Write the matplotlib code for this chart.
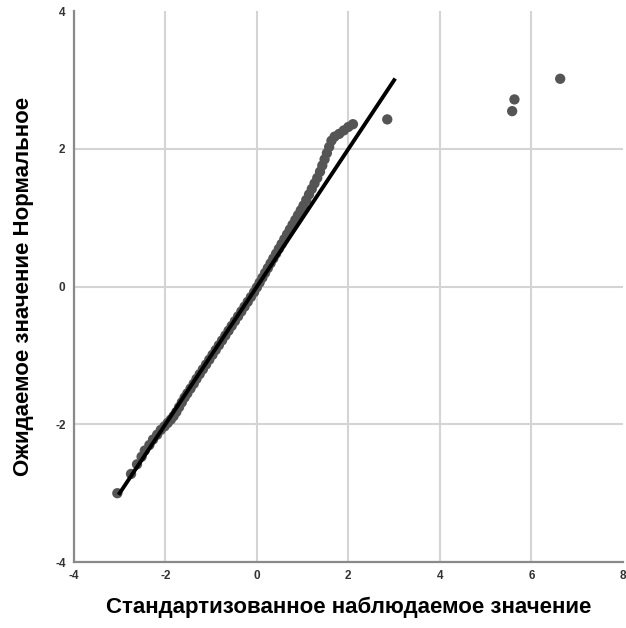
import matplotlib
matplotlib.use("Agg")
import matplotlib.pyplot as plt

observed = [
    -3.05, -2.75, -2.62, -2.52, -2.45, -2.35, -2.27, -2.18, -2.10, -2.02,
    -1.95, -1.88, -1.82, -1.76, -1.70, -1.64, -1.58, -1.52, -1.45, -1.38,
    -1.32, -1.25, -1.18, -1.11, -1.04, -0.97, -0.90, -0.83, -0.76, -0.69,
    -0.62, -0.55, -0.48, -0.41, -0.34, -0.27, -0.20, -0.13, -0.06, 0.00,
    0.06, 0.12, 0.18, 0.24, 0.30, 0.36, 0.42, 0.48, 0.54, 0.60,
    0.66, 0.72, 0.78, 0.84, 0.90, 0.96, 1.02, 1.08, 1.14, 1.20,
    1.26, 1.32, 1.38, 1.43, 1.48, 1.53, 1.58, 1.63, 1.70, 1.80,
    1.90, 2.00, 2.10,
    2.85, 5.58, 5.63, 6.63,
]
expected = [
    -3.00, -2.72, -2.58, -2.47, -2.38, -2.30, -2.22, -2.15, -2.08, -2.03,
    -1.98, -1.93, -1.88, -1.82, -1.75, -1.68, -1.61, -1.55, -1.48, -1.41,
    -1.34, -1.27, -1.20, -1.13, -1.06, -0.99, -0.92, -0.85, -0.78, -0.71,
    -0.64, -0.57, -0.50, -0.43, -0.36, -0.29, -0.22, -0.15, -0.08, -0.01,
    0.06, 0.13, 0.20, 0.27, 0.34, 0.41, 0.48, 0.55, 0.62, 0.69,
    0.76, 0.83, 0.90, 0.97, 1.04, 1.11, 1.18, 1.26, 1.34, 1.42,
    1.50, 1.58, 1.67, 1.76, 1.85, 1.94, 2.03, 2.12, 2.18, 2.22,
    2.27, 2.32, 2.36,
    2.43, 2.55, 2.72, 3.02,
]
ref_line = [-3, 3]

x_ticks = [-4, -2, 0, 2, 4, 6, 8]
y_ticks = [-4, -2, 0, 2, 4]

plt.rcParams['font.family'] = ['Liberation Sans', 'DejaVu Sans']
plt.rcParams['axes.unicode_minus'] = False

fig = plt.figure(figsize=(6.26, 6.28), dpi=100)
ax = fig.add_axes([0.118, 0.105, 0.877, 0.877])

ax.scatter(observed, expected, s=55, color='#555555', edgecolors='none', zorder=3)
ax.plot(ref_line, ref_line, color='#000000', lw=2.8, zorder=4)

ax.set_xlim(-4, 8)
ax.set_ylim(-4, 4)
ax.set_xticks(x_ticks)
ax.set_yticks(y_ticks)
ax.grid(True, color='#d4d4d4', lw=1.5, zorder=0)
ax.set_axisbelow(True)
# no gridline on the far edges
ax.xaxis.get_gridlines()[-1].set_visible(False)
ax.yaxis.get_gridlines()[-1].set_visible(False)

for s in ['top', 'right']:
    ax.spines[s].set_visible(False)
for s in ['left', 'bottom']:
    ax.spines[s].set_color('#8a8a8a')
    ax.spines[s].set_linewidth(1.6)

ax.tick_params(length=0, labelsize=8.5, labelcolor='#333333', pad=6)
for lab in ax.get_xticklabels() + ax.get_yticklabels():
    lab.set_fontweight('bold')

ax.set_xlabel('Стандартизованное наблюдаемое значение', fontsize=16,
              fontweight='bold', labelpad=10)
ax.set_ylabel('Ожидаемое значение Нормальное', fontsize=16,
              fontweight='bold', labelpad=15)

fig.savefig('out.png', dpi=100)
